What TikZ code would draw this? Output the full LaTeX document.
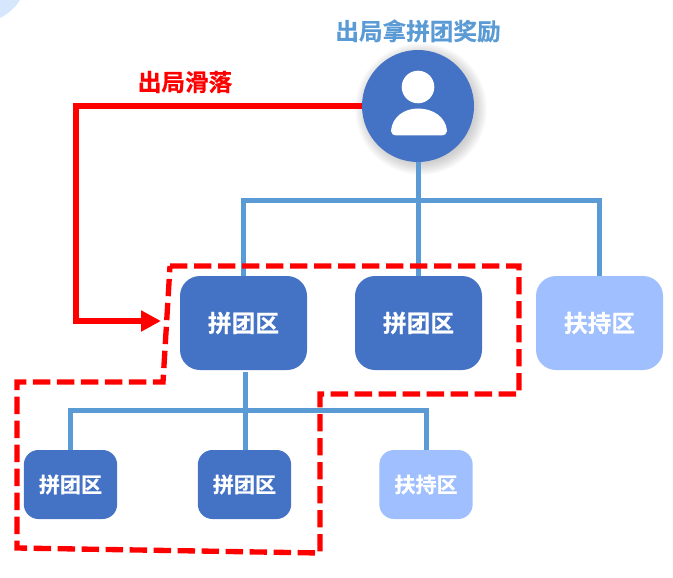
\documentclass[tikz,border=0pt]{standalone}
\usepackage{fontspec}
\usepackage{xcolor}
\setmainfont{Noto Sans CJK SC}[BoldFont={Noto Sans CJK SC Bold},BoldFeatures={FakeBold=0.6}]
\usetikzlibrary{arrows.meta,positioning,calc}
\definecolor{Deep}{HTML}{4472C4}
\definecolor{Sky}{HTML}{5B9BD5}
\definecolor{Pale}{HTML}{9FBFFF}
\definecolor{Corner}{HTML}{D6E6FD}
\definecolor{Fall}{HTML}{FF0000}
\tikzset{
  bigbox/.style={rounded corners=15pt,minimum width=95.25pt,minimum height=70.5pt,inner sep=0pt,text=white,font=\fontsize{17.8}{20}\selectfont\bfseries},
  smallbox/.style={rounded corners=11pt,minimum width=70pt,minimum height=51.75pt,inner sep=0pt,text=white,font=\fontsize{15.8}{18}\selectfont\bfseries},
  bus/.style={draw=Sky,line width=3.75pt},
  fall/.style={draw=Fall,line width=5pt},
}

\begin{document}
\begin{tikzpicture}[x=0.75pt,y=-0.75pt]
  \useasboundingbox (0,0) rectangle (673,577);
  \fill[Corner] (0,0) -- (20,0) .. controls (15,8) and (8,14) .. (0,18) -- cycle;
  \foreach \r in {66,65,...,50}{
    \fill[black,opacity=0.016] (421,109) circle[radius=\r];
  }
  \node[circle,fill=Deep,minimum size=84pt,inner sep=0pt] (user) at (418,106) {};
  \fill[white] (418,87) circle[radius=16.3];
  \fill[white] (391,131) .. controls (392,117) and (404,108.5) .. (418,108.5)
    .. controls (433,108.5) and (446,117) .. (447,131)
    .. controls (447,134) and (445,135) .. (441,135.5) -- (397,135.5)
    .. controls (393,135) and (391,134) .. (391,131) -- cycle;
  \node[text=Sky,font=\fontsize{17.7}{20}\selectfont\bfseries] (title) at (418,31) {出局拿拼团奖励};
  \node[text=Fall,font=\fontsize{17.7}{20}\selectfont\bfseries] (falltext) at (185,82) {出局滑落};

  \node[bigbox,fill=Deep] (tuanA) at (243.5,323) {拼团区};
  \node[bigbox,fill=Deep] (tuanB) at (418.5,323) {拼团区};
  \node[bigbox,fill=Pale] (fuA) at (599.5,323) {扶持区};
  \node[smallbox,fill=Deep] (tuanC) at (70.5,484.5) {拼团区};
  \node[smallbox,fill=Deep] (tuanD) at (244.5,484.5) {拼团区};
  \node[smallbox,fill=Pale] (fuB) at (426,484.5) {扶持区};

  \coordinate (busA) at (419,200);
  \coordinate (busB) at (245,410);
  \coordinate (stemB) at (245,372);
  \draw[bus] (user.south) -- (user.south|-tuanB.north);
  \draw[bus] (tuanA.north) |- (busA) -| (fuA.north);
  \draw[bus] (stemB) -- (tuanD.north-|stemB);
  \draw[bus] (tuanC.north) |- (busB) -| (fuB.north);

  \coordinate (fallturn) at (76,321);
  \coordinate (falltip) at (161,321);
  \draw[fall,-{Triangle[length=15pt,width=15pt]}] (user.west) -| (fallturn) -- (falltip);

  \draw[Fall,line width=4pt,dash pattern=on 13pt off 5pt] (170,266) -- (519,266) -- (519,394)
    -- (320,394) -- (320,553) -- (17,548) -- (17,382) -- (163,382) -- cycle;
\end{tikzpicture}
\end{document}
